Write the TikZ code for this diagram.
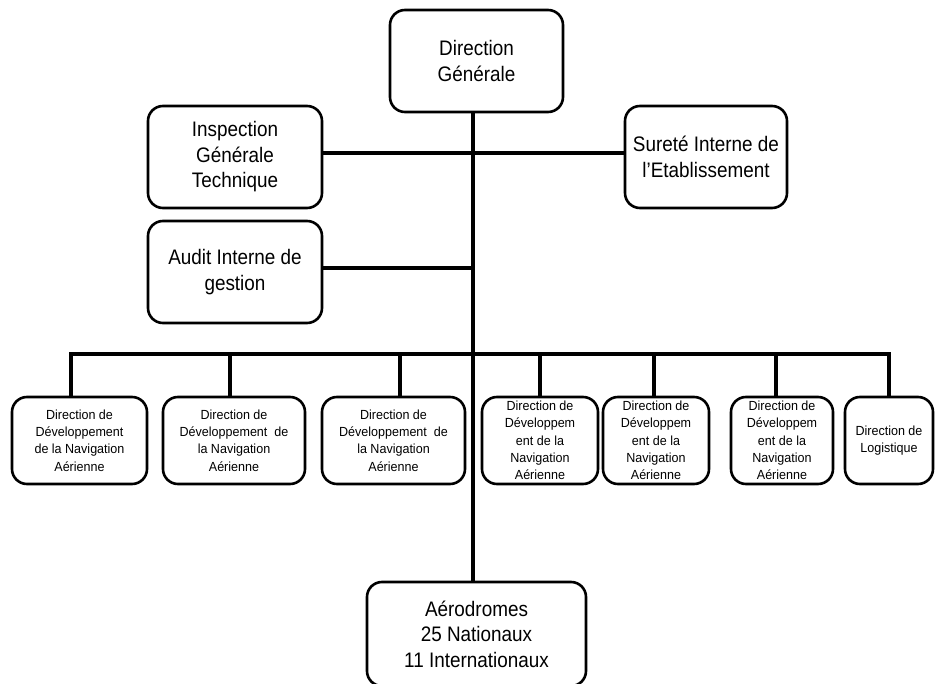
\documentclass[tikz,border=0pt]{standalone}
\usepackage{fontspec}
\setmainfont{Liberation Sans}
\newfontfamily\narrowsans{Liberation Sans}[FakeStretch=0.9]
\newfontfamily\slimsans{Liberation Sans}[FakeStretch=0.95]
\begin{document}
\begin{tikzpicture}[x=1pt,y=-1pt,
  orgbox/.style={draw=black, line width=2.6pt, rounded corners=15pt, align=center,
    inner sep=0pt, fill=white},
  bigbox/.style={orgbox, font=\narrowsans\fontsize{21}{25.5}\selectfont, minimum height=102pt},
  smallbox/.style={orgbox, font=\slimsans\fontsize{13.2}{17.3}\selectfont, minimum height=87pt},
  link/.style={line width=3.6pt, line cap=butt}]
\useasboundingbox (0,0) rectangle (937,684);
\clip (0,0) rectangle (937,684);

% trunk position
\coordinate (tt) at (473,0);

% head and staff units
\node[bigbox, minimum width=173pt] (dg) at (476.5,61) {Direction\\Générale};
\node[bigbox, minimum width=174pt] (igt) at (235,157) {Inspection\\Générale\\Technique};
\node[bigbox, minimum width=162pt] (sie) at (706,157) {Sureté Interne de\\l’Etablissement};
\node[bigbox, minimum width=174pt] (aig) at (235,272) {Audit Interne de\\gestion};

% directorates
\node[smallbox, minimum width=135pt] (d1) at (79.5,440.5) {Direction de\\Développement\\de la Navigation\\Aérienne};
\node[smallbox, minimum width=142pt] (d2) at (234,440.5) {Direction de\\Développement~ de\\la Navigation\\Aérienne};
\node[smallbox, minimum width=143pt] (d3) at (393.5,440.5) {Direction de\\Développement~ de\\la Navigation\\Aérienne};
\node[smallbox, minimum width=116pt] (d4) at (540,440.5) {Direction de\\Développem\\ent de la\\Navigation\\Aérienne};
\node[smallbox, minimum width=106pt] (d5) at (656,440.5) {Direction de\\Développem\\ent de la\\Navigation\\Aérienne};
\node[smallbox, minimum width=102pt] (d6) at (782,440.5) {Direction de\\Développem\\ent de la\\Navigation\\Aérienne};
\node[smallbox, minimum width=88pt] (d7) at (889,440.5) {Direction de\\Logistique};

% airports
\node[bigbox, minimum width=219pt, minimum height=104pt] (aero) at (476.5,634) {Aérodromes\\25 Nationaux\\11 Internationaux};

% trunk and staff links
\coordinate (igtR) at ([yshift=4pt]igt.east);
\coordinate (sieL) at ([yshift=4pt]sie.west);
\coordinate (aigR) at ([yshift=4pt]aig.east);
\draw[link] (tt |- dg.south) -- (tt |- aero.north);
\draw[link] (igtR) -- (sieL);
\draw[link] (aigR) -- (tt |- aigR);

% bus to the directorates
\coordinate (b1) at (71,354);
\coordinate (b2) at (230,354);
\coordinate (b3) at (400,354);
\coordinate (b4) at (540,354);
\coordinate (b5) at (654,354);
\coordinate (b6) at (776,354);
\coordinate (b7) at (889,354);
\draw[link, line cap=rect] (b1) -- (b7);
\foreach \i in {1,...,7} {
  \draw[link] (b\i) -- (b\i |- d\i.north);
}
\end{tikzpicture}
\end{document}
